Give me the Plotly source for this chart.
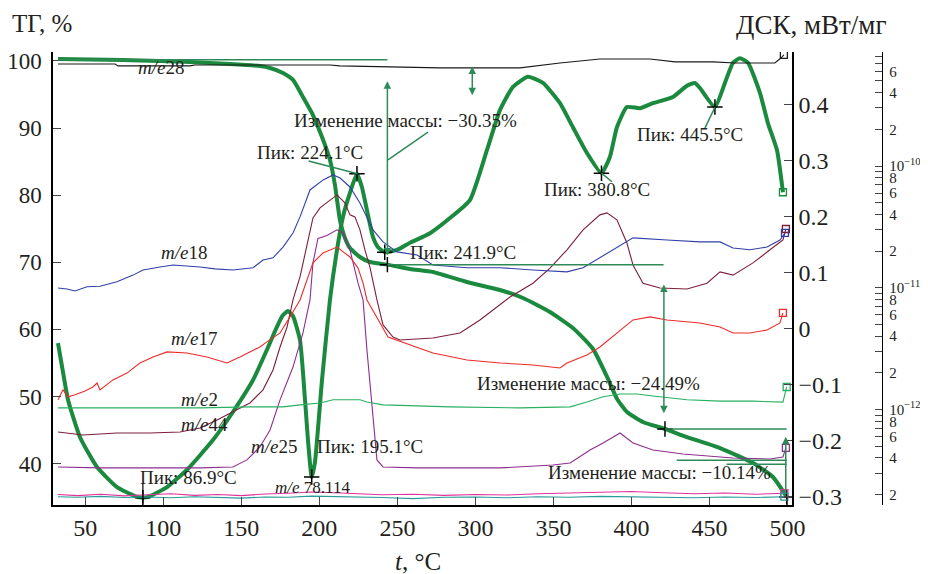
import plotly.graph_objects as go

FONT = "Liberation Serif"
TXT = "#231f20"
GREEN = "#1b8a3e"
THIN = "#2e8b57"

# ---------------- data ----------------
# TG, %
tg_t = [32.5, 53.0, 74.2, 97.9, 117.1, 142.7, 161.9, 168.4, 176.7, 183.1, 189.5, 195.9, 201.7, 206.8, 210.0,
        213.2, 216.4, 219.6, 226.0, 232.4, 243.6, 258.1, 272.8, 294.6, 315.8, 330.5, 347.8, 362.5, 375.4, 384.4,
        390.8, 397.2, 407.4, 421.5, 435.6, 456.8, 477.9, 490.7, 499.5]
tg_v = [100.30, 100.22, 100.15, 100.0, 99.85, 99.55, 99.25, 98.96, 98.21, 97.17, 94.63, 91.95, 88.67, 85.25, 81.52,
        76.30, 73.62, 72.13, 70.79, 70.04, 69.65, 69.00, 68.55, 67.06, 65.87, 64.68, 62.59, 60.21, 57.08, 52.91,
        49.63, 47.69, 46.20, 45.16, 43.96, 42.32, 40.09, 38.00, 35.02]

# DSC, mW/mg
dsc_t = [32.5, 35.7, 38.9, 46.6, 57.5, 70.3, 81.8, 86.9, 91.5, 102.4, 115.2, 131.8, 144.6, 157.5, 166.4,
         172.8, 176.7, 179.9, 183.1, 187.6, 190.8, 192.7, 195.1, 197.2, 201.7, 206.8, 211.3, 215.1, 219.6, 224.1,
         227.3, 230.5, 234.4, 237.6, 241.9, 249.7, 258.1, 270.9, 283.7, 296.5, 307.4, 315.8, 324.1, 333.7, 343.3,
         354.2, 362.5, 371.5, 380.8, 386.2, 390.7, 397.1, 405.5, 413.8, 426.6, 435.6, 440.7, 443.9, 453.5, 459.9,
         465.1, 469.5, 474.7, 482.4, 487.5, 493.3, 497.1]
dsc_v = [-0.026, -0.078, -0.127, -0.194, -0.247, -0.283, -0.299, -0.302, -0.299, -0.283, -0.252, -0.199, -0.149, -0.092, -0.038,
         0.003, 0.024, 0.031, 0.022, -0.021, -0.127, -0.199, -0.265, -0.238, -0.092, 0.051, 0.140, 0.199, 0.242, 0.276,
         0.252, 0.211, 0.163, 0.145, 0.136, 0.140, 0.153, 0.170, 0.197, 0.229, 0.318, 0.390, 0.431, 0.449, 0.438,
         0.402, 0.359, 0.313, 0.277, 0.306, 0.359, 0.395, 0.393, 0.402, 0.413, 0.433, 0.438, 0.429, 0.395, 0.438,
         0.474, 0.482, 0.474, 0.420, 0.366, 0.318, 0.243]

peak_t = [86.9, 195.1, 224.1, 241.9, 380.8, 453.5]
peak_labels = ["Пик: 86.9°C", "Пик: 195.1°C", "Пик: 224.1°C", "Пик: 241.9°C", "Пик: 380.8°C", "Пик: 445.5°C"]

tg_mark_t = [243.6, 421.5, 499.5]
mass_changes = ["−30.35%", "−24.49%", "−10.14%"]

# Ion currents, pA (1e-12 A)
ms28_t = [32.5, 69.1, 71.0, 117.1, 120.3, 206.8, 213.2, 264.5, 277.3, 328.6, 354.2, 379.8, 411.9, 427.9, 452.3,
          466.4, 491.9, 495.8, 497.7]
ms28_v = [690, 690, 665, 665, 677, 677, 665, 652, 640, 640, 703, 758, 758, 717, 717, 703, 703, 772, 818]

ms18_t = [32.5, 38.3, 43.4, 51.1, 59.4, 70.3, 80.6, 87.0, 97.9, 106.2, 123.5, 133.1, 144.6, 157.5, 163.9,
          170.3, 176.7, 183.1, 187.6, 194.0, 202.4, 208.8, 213.3, 219.6, 226.0, 230.5, 234.4, 240.8, 249.7, 262.6,
          272.8, 294.6, 315.8, 336.9, 358.7, 369.0, 379.8, 390.7, 401.0, 422.8, 443.9, 456.8, 465.1, 476.0, 486.9,
          495.2, 498.4]
ms18_v = [9.96, 9.78, 9.42, 10.2, 10.3, 11.2, 12.7, 14.0, 14.8, 15.4, 14.8, 14.3, 14.0, 14.6, 16.9,
          17.6, 21.6, 28.2, 38.2, 63.6, 76.9, 84.5, 79.8, 67.3, 49.7, 38.2, 29.9, 23.8, 19.7, 18.6,
          15.4, 14.6, 14.6, 14.0, 13.5, 14.6, 17.6, 21.6, 25.7, 24.7, 23.8, 23.8, 21.2, 20.5, 21.6,
          24.7, 28.2]

ms17_t = [32.5, 35.7, 38.9, 43.4, 49.8, 54.9, 57.5, 59.4, 67.7, 76.7, 85.0, 93.4, 102.4, 115.2, 128.0,
          140.8, 149.1, 161.9, 166.4, 174.8, 181.2, 187.6, 195.9, 202.3, 211.3, 219.6, 224.8, 228.0, 230.5, 234.4,
          238.9, 244.0, 249.7, 262.6, 272.8, 294.6, 315.8, 336.9, 354.2, 358.7, 371.5, 379.8, 390.7, 401.0, 411.9,
          422.8, 443.9, 456.8, 465.1, 476.0, 486.9, 495.2, 497.1]
ms17_v = [1.20, 1.45, 1.27, 1.32, 1.42, 1.53, 1.65, 1.45, 1.75, 1.99, 2.41, 2.70, 2.97, 2.91, 2.70,
          2.41, 2.70, 3.26, 3.59, 4.25, 5.76, 7.94, 16.0, 19.3, 21.6, 17.9, 14.5, 10.9, 7.94, 6.57,
          5.14, 3.94, 3.72, 3.26, 2.91, 2.55, 2.41, 2.32, 2.19, 2.41, 2.80, 3.26, 4.25, 5.44, 5.76,
          5.44, 5.14, 4.76, 4.25, 4.25, 4.50, 5.14, 6.21]

ms44_t = [32.5, 48.5, 70.3, 91.5, 110.7, 123.5, 134.4, 144.6, 155.5, 163.9, 170.3, 174.8, 179.3, 183.1, 187.6,
          192.1, 195.9, 200.4, 206.8, 211.3, 216.4, 219.6, 222.8, 226.0, 229.2, 232.4, 236.9, 240.8, 247.2, 251.7,
          272.8, 290.1, 302.9, 315.8, 322.2, 336.9, 347.8, 358.7, 369.0, 379.8, 384.3, 390.7, 397.1, 401.0, 407.4,
          418.3, 435.6, 448.4, 456.8, 465.1, 477.9, 488.8, 497.1, 499.0]
ms44_v = [0.653, 0.617, 0.641, 0.641, 0.653, 0.705, 0.820, 0.954, 1.13, 1.45, 2.11, 3.26, 4.76, 7.94, 12.3,
          22.5, 37.5, 45.3, 52.7, 57.9, 49.8, 39.7, 38.2, 29.9, 20.5, 14.8, 7.94, 4.95, 3.94, 3.72,
          3.87, 4.25, 5.44, 7.22, 8.40, 10.9, 14.5, 20.5, 29.9, 39.7, 41.2, 36.1, 23.3, 15.4, 10.9,
          9.96, 9.78, 10.9, 13.5, 12.7, 16.0, 20.5, 24.7, 30.4]

ms25_t = [32.5, 59.4, 91.5, 123.5, 144.6, 153.6, 161.9, 168.4, 174.8, 183.1, 189.5, 194.0, 195.9, 199.1, 204.9,
          211.3, 215.1, 219.6, 224.8, 228.0, 230.5, 234.4, 236.9, 240.8, 262.6, 315.8, 349.7, 360.7, 373.5, 381.8,
          392.7, 401.0, 413.8, 433.0, 465.1, 488.8, 497.1, 499.0]
ms25_v = [0.337, 0.331, 0.331, 0.331, 0.337, 0.385, 0.492, 0.679, 1.20, 2.23, 4.25, 7.94, 16.0, 25.4, 26.9,
          29.9, 28.2, 20.5, 10.9, 7.94, 3.08, 0.820, 0.385, 0.337, 0.331, 0.331, 0.350, 0.363, 0.465, 0.531,
          0.641, 0.531, 0.465, 0.431, 0.399, 0.392, 0.407, 0.483]

ms2_t = [32.5, 59.4, 91.5, 123.5, 155.6, 176.7, 187.6, 200.4, 208.8, 226.0, 230.5, 240.8, 262.6, 283.7, 328.6,
         360.7, 371.5, 381.8, 392.7, 403.6, 413.8, 435.6, 456.8, 477.9, 497.1, 499.5]
ms2_v = [1.03, 1.03, 1.03, 1.03, 1.05, 1.05, 1.09, 1.13, 1.20, 1.20, 1.15, 1.09, 1.07, 1.05, 1.03,
         1.05, 1.15, 1.27, 1.34, 1.34, 1.29, 1.20, 1.17, 1.17, 1.15, 1.53]

ms78_t = [32.5, 45, 60, 75, 90, 105, 120, 135, 150, 165, 180, 195, 210, 225, 240, 260, 280, 300, 320, 340,
          360, 380, 400, 420, 440, 460, 480, 498]
ms78_v = [0.200, 0.196, 0.201, 0.195, 0.199, 0.203, 0.197, 0.200, 0.196, 0.202, 0.205, 0.210, 0.207, 0.203,
          0.199, 0.201, 0.197, 0.200, 0.198, 0.203, 0.206, 0.210, 0.212, 0.207, 0.203, 0.206, 0.201, 0.205]
ms114_v = [0.192, 0.190, 0.193, 0.189, 0.191, 0.188, 0.192, 0.190, 0.187, 0.191, 0.190, 0.194, 0.193, 0.191,
           0.189, 0.185, 0.190, 0.191, 0.188, 0.192, 0.190, 0.193, 0.192, 0.190, 0.188, 0.191, 0.189, 0.192]

x_ticks = [50, 100, 150, 200, 250, 300, 350, 400, 450, 500]
tg_ticks = [40, 50, 60, 70, 80, 90, 100]
dsc_ticks = [-0.3, -0.2, -0.1, 0, 0.1, 0.2, 0.3, 0.4]
dsc_ticktext = ["−0.3", "−0.2", "−0.1", "0", "0.1", "0.2", "0.3", "0.4"]

# ---------------- figure ----------------
fig = go.Figure()

ms_series = [
    (ms78_t, ms78_v, "#e0339a"),
    (ms78_t, ms114_v, "#2a9a9a"),
    (ms25_t, ms25_v, "#8e2e90"),
    (ms44_t, ms44_v, "#7d1f3a"),
    (ms2_t, ms2_v, "#27b060"),
    (ms17_t, ms17_v, "#ee2a2a"),
    (ms18_t, ms18_v, "#3040a8"),
    (ms28_t, ms28_v, "#1a1a1a"),
]
for t, v, c in ms_series:
    fig.add_trace(go.Scatter(x=t, y=v, yaxis="y3", mode="lines", line=dict(color=c, width=1.1),
                             hoverinfo="skip", showlegend=False))
    fig.add_trace(go.Scatter(x=[t[-1]], y=[v[-1]], yaxis="y3", mode="markers",
                             marker=dict(symbol="square-open", size=7, color=c, line=dict(width=1.3)),
                             hoverinfo="skip", showlegend=False))

# DSC
fig.add_trace(go.Scatter(x=dsc_t, y=dsc_v, yaxis="y2", mode="lines",
                         line=dict(color=GREEN, width=4, shape="spline", smoothing=0.5),
                         showlegend=False))
fig.add_trace(go.Scatter(x=[dsc_t[-1]], y=[dsc_v[-1]], yaxis="y2", mode="markers",
                         marker=dict(symbol="square-open", size=7, color=GREEN, line=dict(width=1.3)),
                         showlegend=False))
pk_v = [dsc_v[dsc_t.index(t)] for t in peak_t]
fig.add_trace(go.Scatter(x=peak_t, y=pk_v, yaxis="y2", mode="markers",
                         marker=dict(symbol="cross-thin", size=11, line=dict(color="black", width=1.5)),
                         showlegend=False))

# TG
fig.add_trace(go.Scatter(x=tg_t, y=tg_v, yaxis="y", mode="lines",
                         line=dict(color=GREEN, width=4, shape="spline", smoothing=0.5),
                         showlegend=False))
tg_mark_v = [tg_v[tg_t.index(t)] for t in tg_mark_t]
fig.add_trace(go.Scatter(x=tg_mark_t, y=tg_mark_v, yaxis="y", mode="markers",
                         marker=dict(symbol="cross-thin", size=11, line=dict(color="black", width=1.5)),
                         showlegend=False))

# construction lines (TG coordinates)
def seg(x0, y0, x1, y1, color=THIN, w=1.5):
    fig.add_shape(type="line", xref="x", yref="y", x0=x0, y0=y0, x1=x1, y1=y1,
                  line=dict(color=color, width=w), layer="above")

seg(32.5, 100.2, tg_mark_t[0], 100.2)
seg(tg_mark_t[0], tg_mark_v[0], 420.6, tg_mark_v[0])
seg(tg_mark_t[1], tg_mark_v[1], 499.5, tg_mark_v[1])
seg(429, 40.5, 499.5, 40.5)
seg(461, 39.9, 499.5, 39.9)
seg(269.6, 89.4, 244.0, 85.25)
seg(193.1, 85.1, 224.5, 83.2)
seg(380.8, 83.3, 387.5, 82.0)
seg(447.1, 90.0, 453.5, 93.1)
seg(86.9, 37.1, 86.9, 34.1, color="black", w=1.2)

def darrow(x, y0, y1, color=THIN, both=True, w=1.5):
    fig.add_annotation(x=x, y=y1, ax=x, ay=y0, xref="x", yref="y", axref="x", ayref="y",
                       text="", showarrow=True, arrowhead=2, arrowsize=1, arrowwidth=w,
                       arrowcolor=color, arrowside="end+start" if both else "end",
                       standoff=0, startstandoff=0)

darrow(243.6, 97.2, 71.0)
darrow(298.0, 99.4, 94.9)
darrow(420.8, 66.9, 47.5)
darrow(498.9, 35.6, 44.0, both=False)
darrow(490.0, 102.5, 104.9, color="black", both=False, w=1.2)

# text annotations
def label(x, y, text, size=19):
    fig.add_annotation(x=x, y=y, xref="x", yref="y", text=text, showarrow=False,
                       font=dict(family=FONT, size=size, color=TXT), xanchor="center", yanchor="middle")

label(98.5, 99.1, "<i>m/e</i>28")
label(113.4, 71.4, "<i>m/e</i>18")
label(119.8, 58.7, "<i>m/e</i>17")
label(123.0, 49.5, "<i>m/e</i>2")
label(126.2, 45.8, "<i>m/e</i>44")
label(170.9, 42.5, "<i>m/e</i>25")
label(195.4, 36.5, "<i>m/e</i> 78.114", size=17)
label(254.9, 91.2, "Изменение массы: " + mass_changes[0])
label(372.2, 52.0, "Изменение массы: " + mass_changes[1])
label(417.7, 38.6, "Изменение массы: " + mass_changes[2])
label(115.9, 38.0, peak_labels[0])
label(232.4, 42.6, peak_labels[1])
label(194.0, 86.4, peak_labels[2])
label(292.1, 71.5, peak_labels[3])
label(378.0, 80.8, peak_labels[4])
label(437.5, 89.0, peak_labels[5])

# axis titles
fig.add_annotation(x=-0.0128, y=1.062, xref="paper", yref="paper", text="ТГ, %", showarrow=False,
                   font=dict(family=FONT, size=25, color=TXT), xanchor="center", yanchor="middle")
fig.add_annotation(x=0.8814, y=1.0596, xref="paper", yref="paper", text="ДСК, мВт/мг", showarrow=False,
                   font=dict(family=FONT, size=27, color=TXT), xanchor="center", yanchor="middle")
fig.add_annotation(x=0.4244, y=-0.1258, xref="paper", yref="paper", text="<i>t</i>, °C", showarrow=False,
                   font=dict(family=FONT, size=25, color=TXT), xanchor="center", yanchor="middle")

# log ticks (pA)
log_vals, log_text = [], []
decade_names = {1: "10<sup>−12</sup>", 10: "10<sup>−11</sup>", 100: "10<sup>−10</sup>"}
for dec in [0.1, 1, 10, 100]:
    if dec in decade_names:
        log_vals.append(dec)
        log_text.append(decade_names[dec])
    for m in range(2, 10):
        val = round(m * dec, 3)
        if val > 860:
            break
        log_vals.append(val)
        log_text.append(str(m) if (m % 2 == 0 and val < 700) else "")

tickfont = dict(family=FONT, size=24, color=TXT)
fig.update_layout(
    width=920, height=566,
    margin=dict(l=45, r=15, t=44, b=69),
    paper_bgcolor="white", plot_bgcolor="white",
    showlegend=False,
    xaxis=dict(domain=[0, 0.8593], range=[29.3, 502.9], tickvals=x_ticks, ticks="inside", ticklen=8,
               tickwidth=1.3, showline=True, linecolor="black", linewidth=1.5, showgrid=False,
               zeroline=False, tickfont=tickfont, ticklabelstandoff=0, automargin=False),
    yaxis=dict(range=[33.83, 101.34], tickvals=tg_ticks, ticks="inside", ticklen=8, tickwidth=1.3,
               showline=True, linecolor="black", linewidth=1.5, showgrid=False, zeroline=False,
               tickfont=dict(family=FONT, size=23, color=TXT), ticklabelstandoff=5, automargin=False),
    yaxis2=dict(range=[-0.3149, 0.4932], overlaying="y", side="right", anchor="x", tickvals=dsc_ticks,
                ticktext=dsc_ticktext, ticks="inside", ticklen=8, tickwidth=1.3, showline=True,
                linecolor="black", linewidth=1.5, showgrid=False, zeroline=False, tickfont=tickfont,
                ticklabelstandoff=0, automargin=False),
    yaxis3=dict(type="log", range=[-0.785, 2.937], overlaying="y", side="right", anchor="free",
                position=0.964, tickvals=log_vals, ticktext=log_text, ticks="inside", ticklen=7,
                tickwidth=1.2, showline=True, linecolor="black", linewidth=1.3, showgrid=False,
                zeroline=False, tickfont=dict(family=FONT, size=15, color=TXT), ticklabelstandoff=3,
                automargin=False),
)

fig.write_html("out.html")
